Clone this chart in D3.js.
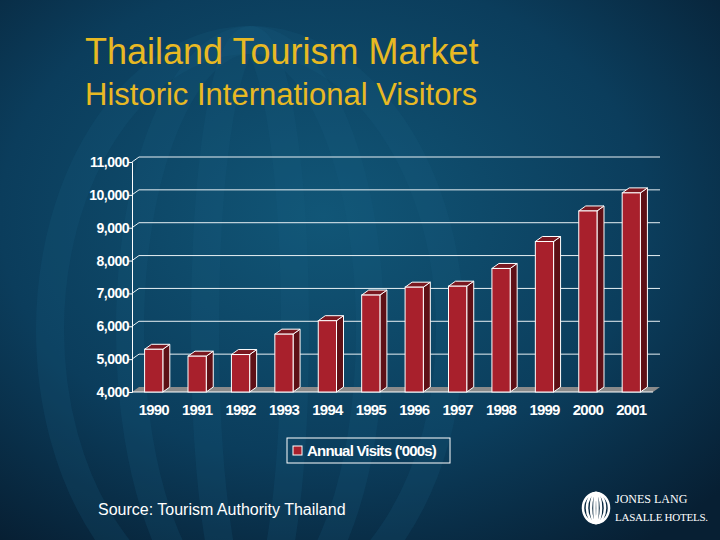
<!DOCTYPE html>
<html><head><meta charset="utf-8">
<script src="https://cdn.jsdelivr.net/npm/d3@7"></script>
<style>body{margin:0;background:#0b2f48}</style>
</head><body>
<script>
const years = ["1990","1991","1992","1993","1994","1995","1996","1997","1998","1999","2000","2001"];
const visits = [5300,5090,5140,5760,6170,6950,7190,7220,7760,8580,9510,10060];
const yTicks = [4000,5000,6000,7000,8000,9000,10000,11000];

const W = 720, H = 540;
const svg = d3.select("body").append("svg").attr("width", W).attr("height", H);
const defs = svg.append("defs");
const bg = defs.append("radialGradient").attr("id","bg").attr("cx","45%").attr("cy","40%").attr("r","75%");
bg.append("stop").attr("offset","0%").attr("stop-color","#115677");
bg.append("stop").attr("offset","60%").attr("stop-color","#0b3d5c");
bg.append("stop").attr("offset","100%").attr("stop-color","#071f33");
svg.append("rect").attr("width",W).attr("height",H).attr("fill","url(#bg)");

// faint watermark rings
const wm = svg.append("g").attr("fill","none").attr("stroke","#1a5d80").attr("stroke-opacity",0.2).attr("stroke-width",28);
[[250,330,200,290],[250,330,120,290],[250,330,45,290]].forEach(d=>{
  wm.append("ellipse").attr("cx",d[0]).attr("cy",d[1]).attr("rx",d[2]).attr("ry",d[3]);
});

svg.append("text").attr("x",85).attr("y",64).attr("fill","#e8b923")
  .attr("font-family","Liberation Sans, Arial").attr("font-size",36).text("Thailand Tourism Market");
svg.append("text").attr("x",85).attr("y",105).attr("fill","#e8b923")
  .attr("font-family","Liberation Sans, Arial").attr("font-size",31).text("Historic International Visitors");

const x0 = 132, x1 = 660, dx = 7, dy = 5;
const y = d3.scaleLinear().domain([4000,11000]).range([392,162]);
const x = d3.scaleBand().domain(years).range([x0, x1-dx]).paddingInner(0.58).paddingOuter(0.29);

const g = svg.append("g");
g.append("path").attr("d",`M${x0},${y(4000)}L${x0+dx},${y(4000)-dy}L${x1},${y(4000)-dy}L${x1-dx},${y(4000)}Z`)
  .attr("fill","#8a8a8a");
yTicks.forEach(t=>{
  if (t===4000) return;
  g.append("line").attr("x1",x0).attr("y1",y(t)).attr("x2",x0+dx).attr("y2",y(t)-dy).attr("stroke","#e8f0f4");
  g.append("line").attr("x1",x0+dx).attr("y1",y(t)-dy).attr("x2",x1).attr("y2",y(t)-dy).attr("stroke","#e8f0f4");
});
g.append("g").attr("transform",`translate(${x0},0)`)
  .call(d3.axisLeft(y).tickValues(yTicks).tickFormat(d3.format(",")).tickSize(4))
  .call(a=>{a.select(".domain").attr("stroke","#fff");a.selectAll("line").attr("stroke","#fff");
    a.selectAll("text").attr("fill","#fff").attr("font-family","Liberation Sans, Arial").attr("font-size",14).attr("font-weight","bold").attr("letter-spacing","-0.5").attr("x",-3);});
g.append("g").attr("transform",`translate(0,${y(4000)})`)
  .call(d3.axisBottom(x).tickSize(0).tickPadding(12))
  .call(a=>{a.select(".domain").attr("stroke","#fff").attr("d",`M${x0},0H${x1-dx}`);
    a.selectAll("text").attr("fill","#fff").attr("font-family","Liberation Sans, Arial").attr("font-size",15).attr("font-weight","bold").attr("letter-spacing","-0.8");});

const bars = g.selectAll("g.bar").data(years.map((yr,i)=>({yr,v:visits[i]}))).join("g");
bars.each(function(d){
  const s = d3.select(this), bx = x(d.yr), bw = x.bandwidth(), top = y(d.v), bot = y(4000);
  s.append("path").attr("d",`M${bx+bw},${bot}L${bx+bw+dx},${bot-dy}L${bx+bw+dx},${top-dy}L${bx+bw},${top}Z`)
    .attr("fill","#5e1016").attr("stroke","#fff").attr("stroke-width",1);
  s.append("path").attr("d",`M${bx},${top}L${bx+dx},${top-dy}L${bx+bw+dx},${top-dy}L${bx+bw},${top}Z`)
    .attr("fill","#7a1820").attr("stroke","#fff").attr("stroke-width",1);
  s.append("rect").attr("x",bx).attr("y",top).attr("width",bw).attr("height",bot-top)
    .attr("fill","#a8202c").attr("stroke","#fff").attr("stroke-width",1);
});

const lg = svg.append("g");
lg.append("rect").attr("x",287).attr("y",438).attr("width",163).attr("height",25).attr("fill","none").attr("stroke","#fff");
lg.append("rect").attr("x",293).attr("y",446).attr("width",9).attr("height",9).attr("fill","#a8202c").attr("stroke","#fff");
lg.append("text").attr("x",307).attr("y",456).attr("fill","#fff").attr("font-family","Liberation Sans, Arial")
  .attr("font-size",15).attr("font-weight","bold").attr("letter-spacing","-0.8").text("Annual Visits ('000s)");

svg.append("text").attr("x",98).attr("y",515).attr("fill","#fff").attr("font-family","Liberation Sans, Arial")
  .attr("font-size",16).text("Source: Tourism Authority Thailand");

const lo = svg.append("g").attr("fill","none").attr("stroke","#fff").attr("stroke-width",2.5);
[13,9,5,1.5].forEach(r=>lo.append("ellipse").attr("cx",596).attr("cy",508).attr("rx",r).attr("ry",15));
svg.append("text").attr("x",615).attr("y",503).attr("fill","#fff").attr("font-family","Liberation Serif, serif")
  .attr("font-size",12).text("JONES LANG");
svg.append("text").attr("x",615).attr("y",521).attr("fill","#fff").attr("font-family","Liberation Serif, serif")
  .attr("font-size",11).attr("textLength",93).text("LASALLE HOTELS.");
</script>
</body></html>
